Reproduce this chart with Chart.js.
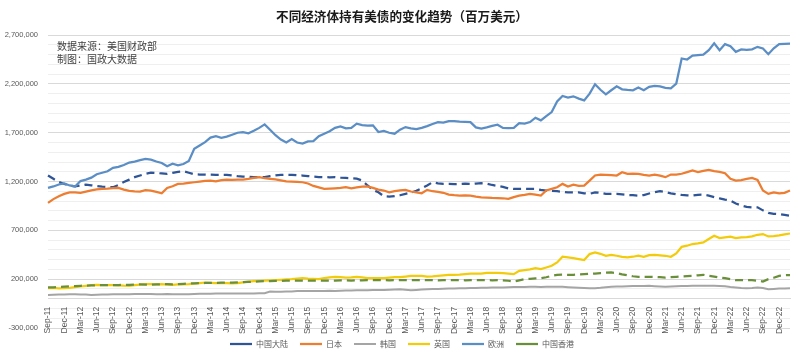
<!DOCTYPE html>
<html><head><meta charset="utf-8">
<script src="https://cdn.jsdelivr.net/npm/chart.js@4.4.1/dist/chart.umd.min.js"></script>
<style>html,body{margin:0;padding:0;background:#fff;}#wrap{width:800px;height:358px;}</style>
</head><body>
<div id="wrap"><canvas id="c" width="800" height="358"></canvas></div>
<script>
// ---- Text ----
const chartTitle = '不同经济体持有美债的变化趋势（百万美元）';
const noteLines = ['数据来源：美国财政部', '制图：国政大数据'];
const seriesNames = ['中国大陆', '日本', '韩国', '英国', '欧洲', '中国香港'];

// ---- Categories: monthly, Sep-11 .. Feb-23 ----
const monthNames = ['Jan','Feb','Mar','Apr','May','Jun','Jul','Aug','Sep','Oct','Nov','Dec'];
const firstYear = 2011, firstMonth = 8, monthCount = 138;
const categories = [];
for (let i = 0; i < monthCount; i++) {
  const m = (firstMonth + i) % 12, y = firstYear + Math.floor((firstMonth + i) / 12);
  categories.push(monthNames[m] + '-' + String(y).slice(2));
}
const tickEvery = 3; // label every 3rd month

// ---- Y axis ----
const yMin = -300000, yMax = 2700000, yMinorStep = 100000, yMajorStep = 500000;

// ---- Series values (thousands of 百万美元) ----
const unit = 1000;
const chinaMainland = [
1262,1228,1195,1175,1159,1152,1160,1169,1162,1155,
1149,1145,1142,1165,1195,1220,1245,1262,1280,1292,
1288,1283,1279,1290,1300,1306,1290,1275,1272,1272,
1270,1268,1269,1269,1262,1255,1251,1248,1245,1244,
1245,1255,1264,1268,1270,1269,1265,1262,1256,1251,
1246,1245,1244,1245,1240,1237,1234,1230,1210,1160,
1115,1090,1050,1046,1052,1060,1074,1085,1105,1130,
1160,1193,1182,1176,1176,1174,1176,1178,1176,1180,
1183,1178,1165,1155,1145,1130,1124,1125,1126,1125,
1124,1115,1108,1105,1101,1095,1090,1090,1090,1080,
1074,1090,1085,1074,1074,1074,1068,1063,1060,1056,
1062,1078,1090,1101,1092,1080,1070,1063,1058,1056,
1064,1066,1056,1040,1028,1015,1005,975,955,940,
936,936,905,880,870,867,858,850];
const japan = [
981,1020,1050,1074,1088,1088,1084,1097,1110,1120,
1125,1128,1133,1135,1118,1105,1100,1097,1111,1106,
1095,1080,1135,1152,1176,1180,1186,1193,1200,1207,
1210,1203,1215,1221,1217,1220,1221,1228,1238,1245,
1234,1228,1222,1212,1203,1200,1197,1193,1180,1155,
1140,1125,1128,1131,1135,1142,1131,1140,1149,1150,
1135,1118,1108,1090,1101,1110,1115,1098,1090,1080,
1115,1101,1095,1085,1066,1060,1056,1058,1056,1046,
1039,1036,1032,1030,1029,1022,1040,1055,1063,1074,
1066,1056,1108,1125,1142,1176,1149,1169,1155,1159,
1210,1262,1272,1269,1265,1262,1296,1279,1280,1279,
1269,1262,1272,1260,1245,1272,1272,1280,1296,1313,
1296,1310,1320,1306,1300,1286,1228,1210,1215,1228,
1238,1217,1108,1074,1090,1080,1085,1108];
const korea = [
39,40,42,44,46,46,44,42,39,40,
42,44,45,46,46,46,47,48,48,47,
46,46,47,46,46,46,46,48,50,52,
52,53,53,53,54,53,53,53,54,56,
56,73,72,72,73,75,78,80,80,79,
80,80,81,80,82,84,85,86,87,87,
88,89,90,93,95,97,92,87,90,94,
97,99,100,102,104,105,107,108,109,110,
112,113,114,115,116,118,119,120,121,122,
122,121,122,123,122,122,118,115,112,110,
108,108,112,118,122,124,126,128,129,130,
131,132,128,125,122,125,128,130,131,132,
132,133,132,132,131,128,120,115,110,108,
110,115,110,97,100,104,104,106];
const uk = [
108,110,106,108,112,118,125,132,138,142,
140,139,138,136,133,132,138,144,149,150,
147,149,145,142,146,148,149,155,160,166,
163,160,159,160,158,159,168,175,180,183,
186,188,190,193,197,200,205,210,205,203,
200,210,218,224,220,217,219,224,218,212,
210,212,210,215,220,220,227,234,233,234,
226,228,234,240,245,244,246,252,258,256,
258,265,264,265,262,258,251,286,293,300,
313,303,320,337,371,430,423,415,406,396,
457,474,460,440,450,440,428,423,430,440,
430,447,450,445,440,430,464,532,543,560,
567,577,611,645,621,628,635,621,628,632,
638,655,662,638,640,648,660,668];
const europe = [
1135,1150,1170,1180,1160,1150,1205,1220,1240,1275,
1290,1305,1340,1350,1370,1395,1405,1420,1433,1425,
1405,1390,1357,1382,1366,1380,1410,1536,1570,1604,
1650,1665,1648,1660,1680,1700,1707,1695,1720,1750,
1786,1730,1675,1630,1600,1635,1600,1590,1612,1614,
1665,1690,1715,1750,1765,1745,1750,1793,1778,1772,
1776,1707,1718,1700,1690,1731,1758,1745,1738,1750,
1768,1790,1809,1803,1818,1820,1815,1812,1809,1755,
1742,1755,1770,1782,1750,1748,1750,1799,1793,1809,
1854,1827,1870,1912,2020,2076,2060,2073,2050,2032,
2101,2197,2140,2094,2135,2176,2145,2138,2135,2163,
2135,2170,2180,2175,2160,2155,2204,2461,2450,2490,
2495,2500,2546,2615,2546,2608,2587,2529,2553,2550,
2555,2580,2563,2505,2565,2608,2610,2612];
const hongKong = [
115,117,120,125,128,130,132,135,136,138,
140,139,140,140,141,143,145,146,145,144,
146,148,149,148,150,152,155,158,160,161,
162,163,164,165,166,168,170,172,175,178,
180,180,182,183,184,185,186,185,184,186,
187,185,184,186,188,187,186,188,189,190,
190,191,190,189,190,191,190,189,190,191,
190,190,189,190,191,190,190,189,190,191,
190,190,189,190,189,184,176,188,200,204,
208,210,220,234,245,246,245,245,248,251,
255,258,262,266,269,262,250,240,230,224,
224,224,222,220,217,220,224,228,232,234,
240,245,234,226,216,210,200,190,190,189,
190,185,176,200,215,234,240,242];

// ---- Styling ----
const CJK = '"Noto Sans CJK SC", "Noto Sans", sans-serif';
const NUM = '"Liberation Sans", Arial, sans-serif';
const seriesValues = [chinaMainland, japan, korea, uk, europe, hongKong];
const seriesColors = ['#2F5597', '#ED7D31', '#A5A5A5', '#F2CC0C', '#5B8EC4', '#6A8F3A'];
const seriesDash = [[8, 5], [], [], [], [], [8, 5]];

const datasets = seriesNames.map((name, i) => ({
  label: name,
  data: seriesValues[i].map(v => v * unit),
  borderColor: seriesColors[i],
  backgroundColor: seriesColors[i],
  borderWidth: i === 2 ? 2 : 2.25,
  borderDash: seriesDash[i],
  borderCapStyle: 'butt',
  pointRadius: 0,
  tension: 0,
  fill: false,
  order: seriesNames.length - i
}));

const notesPlugin = {
  id: 'notes',
  afterDatasetsDraw(chart) {
    const {ctx, chartArea} = chart;
    ctx.save();
    ctx.font = '10px ' + CJK;
    ctx.fillStyle = '#404040';
    ctx.textBaseline = 'middle';
    ctx.textAlign = 'left';
    noteLines.forEach((t, i) => ctx.fillText(t, chartArea.left + 9, 46 + i * 13));
    ctx.restore();
  }
};

// centre title and legend on the whole canvas width (not 0..790)
const centreShift = 7;
const shiftBoxes = {
  id: 'shiftBoxes',
  afterLayout(chart) {
    [chart.legend, chart.titleBlock].forEach(b => {
      if (b) { b.left += centreShift; b.right += centreShift; }
    });
  }
};

new Chart(document.getElementById('c'), {
  type: 'line',
  data: { labels: categories, datasets },
  options: {
    responsive: false,
    animation: false,
    layout: { padding: { left: 0, right: 10, top: 0, bottom: 0 } },
    plugins: {
      title: { display: true, text: chartTitle, color: '#1a1a1a',
               font: { size: 12.6, weight: 'bold', family: CJK }, padding: { top: 9, bottom: 11 } },
      legend: { position: 'bottom',
        labels: { usePointStyle: true, pointStyle: 'line', pointStyleWidth: 22, boxHeight: 8,
                  font: { size: 8, family: CJK }, color: '#595959', padding: 12,
                  sort: (a, b) => a.datasetIndex - b.datasetIndex } },
      tooltip: { enabled: false }
    },
    scales: {
      x: {
        type: 'category',
        position: { y: 0 },
        offset: false,
        grid: { display: false },
        border: { display: true, color: '#d9d9d9' },
        ticks: { autoSkip: false, maxRotation: 90, minRotation: 90, padding: 0,
                 font: { size: 8.5, family: NUM }, color: '#595959',
                 callback: (v, i) => (i % tickEvery === 0 ? categories[i] : null) }
      },
      y: {
        min: yMin, max: yMax,
        border: { display: false },
        grid: { drawTicks: false,
                color: c => (((c.tick.value - yMin) % yMajorStep === 0) ? '#d9d9d9' : '#efefef') },
        ticks: { stepSize: yMinorStep, autoSkip: false, padding: 10,
                 font: { size: 7.5, family: NUM }, color: '#595959',
                 callback: v => ((v - yMin) % yMajorStep === 0 ? v.toLocaleString('en-US') : '') },
        afterFit: s => { s.width = 48; }
      }
    }
  },
  plugins: [notesPlugin, shiftBoxes]
});
</script>
</body></html>
